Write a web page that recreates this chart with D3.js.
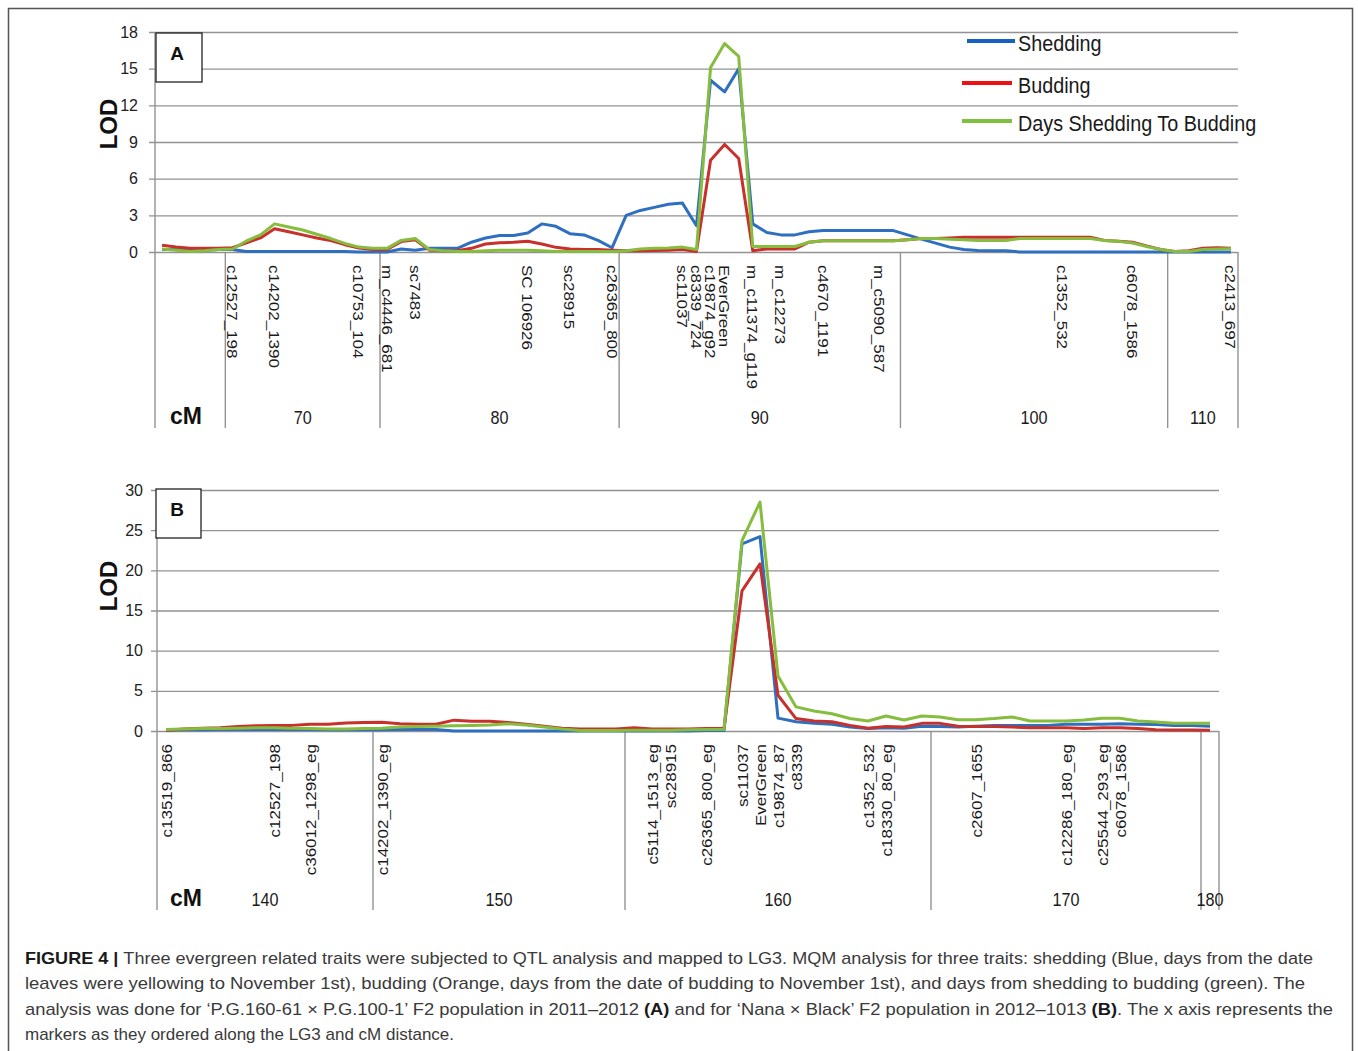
<!DOCTYPE html>
<html>
<head>
<meta charset="utf-8">
<script src="https://cdn.jsdelivr.net/npm/d3@7"></script>
<style>
  body { margin: 0; background: #fff; }
  svg { display: block; font-family: 'Liberation Sans', Arial, sans-serif; }
</style>
</head>
<body>
<svg id="fig" width="1358" height="1051"></svg>
<script>
// ---- panel A data (P.G.160-61 x P.G.100-1, 2011-2012) ----
const sheddingA = [0.2, 0.2, 0.15, 0.15, 0.2, 0.2, 0.05, 0.05, 0.05, 0.05, 0.05, 0.05, 0.05, 0.05, 0, 0, 0,
  0.25, 0.15, 0.3, 0.3, 0.3, 0.8, 1.15, 1.35, 1.35, 1.55, 2.3, 2.1, 1.5, 1.4, 0.95, 0.35,
  3.0, 3.4, 3.65, 3.9, 4.0, 2.15, 14.05, 13.1, 15.0, 2.3, 1.6, 1.4, 1.4, 1.65, 1.75, 1.75, 1.75, 1.75, 1.75, 1.75,
  1.4, 1.05, 0.73, 0.4, 0.2, 0.13, 0.1, 0.1, 0, 0, 0, 0, 0, 0, 0, 0, 0, 0, 0, 0, 0, 0, 0, 0];
const buddingA = [0.55, 0.4, 0.3, 0.3, 0.3, 0.35, 0.75, 1.15, 1.9, 1.65, 1.4, 1.15, 0.93, 0.6, 0.33, 0.2, 0.2,
  0.85, 1.0, 0.15, 0.1, 0.1, 0.3, 0.65, 0.75, 0.8, 0.88, 0.65, 0.38, 0.25, 0.2, 0.2, 0.15,
  0.1, 0.1, 0.12, 0.15, 0.2, 0.05, 7.5, 8.8, 7.65, 0.1, 0.25, 0.25, 0.25, 0.8, 0.92, 0.92, 0.92, 0.92, 0.92, 0.92,
  1.0, 1.1, 1.1, 1.15, 1.2, 1.2, 1.2, 1.2, 1.2, 1.2, 1.2, 1.2, 1.2, 1.2, 0.95, 0.87, 0.8, 0.5, 0.2,
  0.05, 0.1, 0.3, 0.35, 0.3];
const daysA = [0.25, 0.15, 0.05, 0.1, 0.2, 0.25, 0.9, 1.4, 2.3, 2.05, 1.8, 1.45, 1.1, 0.7, 0.4, 0.3, 0.3,
  0.95, 1.1, 0.2, 0.1, 0.05, 0.05, 0.1, 0.15, 0.15, 0.15, 0.1, 0.05, 0.05, 0.05, 0.05, 0.05,
  0.1, 0.25, 0.3, 0.33, 0.4, 0.2, 15.1, 17.05, 16.0, 0.45, 0.45, 0.45, 0.45, 0.8, 0.92, 0.92, 0.92, 0.92, 0.92, 0.92,
  1.0, 1.1, 1.1, 1.05, 1.0, 0.95, 0.95, 0.95, 1.1, 1.1, 1.1, 1.1, 1.1, 1.1, 0.95, 0.87, 0.73, 0.45, 0.2,
  0.05, 0.05, 0.2, 0.25, 0.27];
const markerIdxA = [5, 8, 14, 16, 18, 26, 29, 32, 37, 38, 39, 40, 42, 44, 47, 51, 64, 69, 76];
const markerNamesA = ['c12527_198', 'c14202_1390', 'c10753_104', 'm_c4446_681', 'sc7483', 'SC 106926', 'sc28915',
  'c26365_800', 'sc11037', 'c8339_724', 'c19874_g92', 'EverGreen', 'm_c11374_g119', 'm_c12273', 'c4670_1191',
  'm_c5090_587', 'c1352_532', 'c6078_1586', 'c2413_697'];
const groupSizesA = [5, 11, 17, 20, 19, 5];
const groupLabelsA = ['', '70', '80', '90', '100', '110'];
const ticksA = [0, 3, 6, 9, 12, 15, 18];

// ---- panel B data (Nana x Black, 2012-1013) ----
const sheddingB = [0.1, 0.15, 0.15, 0.2, 0.2, 0.2, 0.2, 0.2, 0.2, 0.15, 0.15, 0.15, 0.15, 0.2, 0.2, 0.2,
  0, 0, 0, 0, 0, 0, 0, 0, 0, 0, 0, 0, 0, 0, 0.05, 0.05,
  23.3, 24.2, 1.6, 1.15, 0.95, 0.85, 0.5, 0.3, 0.4, 0.35, 0.6, 0.55, 0.5, 0.6, 0.7, 0.7, 0.7, 0.7,
  0.85, 0.85, 0.85, 0.9, 0.85, 0.8, 0.7, 0.7, 0.6];
const buddingB = [0.1, 0.25, 0.35, 0.4, 0.55, 0.65, 0.7, 0.7, 0.85, 0.85, 1.0, 1.05, 1.1, 0.9, 0.85, 0.85,
  1.35, 1.2, 1.2, 1.05, 0.85, 0.6, 0.35, 0.25, 0.25, 0.25, 0.4, 0.25, 0.25, 0.25, 0.3, 0.3,
  17.45, 20.8, 4.45, 1.55, 1.25, 1.15, 0.7, 0.35, 0.55, 0.5, 0.95, 0.95, 0.6, 0.55, 0.55, 0.5, 0.4, 0.4,
  0.4, 0.3, 0.4, 0.4, 0.3, 0.15, 0.12, 0.12, 0.1];
const daysB = [0.2, 0.25, 0.3, 0.3, 0.35, 0.4, 0.4, 0.35, 0.3, 0.25, 0.25, 0.3, 0.35, 0.5, 0.55, 0.6,
  0.65, 0.7, 0.75, 0.9, 0.75, 0.5, 0.25, 0.05, 0.05, 0.05, 0.1, 0.1, 0.1, 0.15, 0.2, 0.2,
  23.7, 28.5, 6.85, 3.0, 2.5, 2.15, 1.55, 1.25, 1.87, 1.37, 1.87, 1.75, 1.4, 1.4, 1.55, 1.75, 1.25, 1.25,
  1.25, 1.37, 1.58, 1.58, 1.25, 1.12, 0.95, 0.95, 0.95];
const markerIdxB = [0, 6, 8, 12, 27, 28, 30, 32, 33, 34, 35, 39, 40, 45, 50, 52, 53];
const markerNamesB = ['c13519_866', 'c12527_198', 'c36012_1298_eg', 'c14202_1390_eg', 'c5114_1513_eg', 'sc28915',
  'c26365_800_eg', 'sc11037', 'EverGreen', 'c19874_87', 'c8339', 'c1352_532', 'c18330_80_eg', 'c2607_1655',
  'c12286_180_eg', 'c25544_293_eg', 'c6078_1586'];
const groupSizesB = [12, 14, 17, 15, 1];
const groupLabelsB = ['140', '150', '160', '170', '180'];
const ticksB = [0, 5, 10, 15, 20, 25, 30];

const seriesNames = ['Shedding', 'Budding', 'Days Shedding To Budding'];
const lineColors = ['#2f6fbf', '#c8302c', '#86bd3e'];
const legendColors = ['#1660c0', '#ee1111', '#80c040'];

const captionLines = [
  [['FIGURE 4 | ', true], ['Three evergreen related traits were subjected to QTL analysis and mapped to LG3. MQM analysis for three traits: shedding (Blue, days from the date', false]],
  [['leaves were yellowing to November 1st), budding (Orange, days from the date of budding to November 1st), and days from shedding to budding (green). The', false]],
  [['analysis was done for \u2018P.G.160-61 \u00d7 P.G.100-1\u2019 F2 population in 2011\u20132012 ', false], ['(A)', true],
   [' and for \u2018Nana \u00d7 Black\u2019 F2 population in 2012\u20131013 ', false], ['(B)', true], ['. The x axis represents the', false]],
  [['markers as they ordered along the LG3 and cM distance.', false]]
];

const svg = d3.select('#fig');
const grey = '#929292';

svg.append('rect')
  .attr('x', 8.5).attr('y', 8.5).attr('width', 1344).attr('height', 1100)
  .attr('fill', 'none').attr('stroke', '#555').attr('stroke-width', 1.5);

function squeezed(g, x, y, txt, size, weight) {
  return g.append('text')
    .attr('transform', `translate(${x},${y}) scale(0.9,1)`)
    .attr('font-size', size).attr('font-weight', weight || 'normal')
    .attr('fill', '#1a1a1a').text(txt);
}

function drawPanel(o) {
  const g = svg.append('g');
  const n = o.series[0].length;
  const x = d3.scaleLinear().domain([-0.5, n - 0.5]).range([o.left, o.right]);
  const y = d3.scaleLinear().domain([0, o.ymax]).range([o.bottom, o.top]);

  // gridlines + tick labels
  const ax = g.append('g').attr('transform', `translate(${o.left},0)`)
    .call(d3.axisLeft(y).tickValues(o.ticks).tickSize(-(o.right - o.left)).tickSizeOuter(0).tickPadding(o.pad));
  ax.select('.domain').remove();
  ax.selectAll('.tick line').attr('x1', -6).attr('stroke', grey).attr('stroke-width', 1.4);
  ax.selectAll('.tick text').attr('font-size', 16).attr('fill', '#222')
    .attr('font-family', "'Liberation Sans', Arial, sans-serif");

  // y axis line and group separators
  const bounds = [0, ...d3.cumsum(o.groupSizes)];
  g.selectAll('line.sep').data(bounds).join('line').attr('class', 'sep')
    .attr('x1', d => x(d - 0.5)).attr('x2', d => x(d - 0.5))
    .attr('y1', (d, i) => i === 0 ? o.top : o.bottom).attr('y2', o.sepBottom)
    .attr('stroke', grey).attr('stroke-width', 1.4);

  // group labels
  g.selectAll('text.grp').data(o.groupLabels).join('text').attr('class', 'grp')
    .attr('transform', (d, i) => `translate(${x((bounds[i] + bounds[i + 1] - 1) / 2)},${o.groupY}) scale(0.9,1)`)
    .attr('text-anchor', 'middle').attr('font-size', 18).attr('fill', '#1a1a1a')
    .text(d => d);
  g.append('text').attr('x', 186).attr('y', o.groupY).attr('text-anchor', 'middle')
    .attr('font-size', 23).attr('font-weight', 'bold').attr('fill', '#111').text('cM');

  // marker labels
  const rot = o.labelsDown ? 90 : -90;
  g.selectAll('text.mk').data(o.markerIdx).join('text').attr('class', 'mk')
    .attr('transform', d => `translate(${x(d)},${o.labelY}) rotate(${rot}) scale(1,0.9)`)
    .attr('dy', '0.36em')
    .attr('text-anchor', o.labelsDown ? 'start' : 'end')
    .attr('font-size', 17).attr('fill', '#1a1a1a')
    .text((d, i) => o.markerNames[i]);

  // series lines
  const line = d3.line().x((d, i) => x(i)).y(d => y(d));
  o.series.forEach((s, i) => {
    g.append('path').datum(s).attr('d', line)
      .attr('fill', 'none').attr('stroke', lineColors[i])
      .attr('stroke-width', 3).attr('stroke-linejoin', 'round');
  });

  // panel letter box
  g.append('rect').attr('x', o.box[0]).attr('y', o.box[1]).attr('width', o.box[2]).attr('height', o.box[3])
    .attr('fill', '#fff').attr('stroke', '#222').attr('stroke-width', 1.3);
  g.append('text').attr('x', o.box[0] + 21).attr('y', o.box[1] + 27).attr('text-anchor', 'middle')
    .attr('font-size', 19).attr('font-weight', 'bold').attr('fill', '#111').text(o.letter);

  // LOD title
  g.append('text').attr('transform', `translate(117,${o.lodY}) rotate(-90)`)
    .attr('text-anchor', 'middle').attr('font-size', 24).attr('font-weight', 'bold')
    .attr('fill', '#111').text('LOD');
  return g;
}

const gA = drawPanel({
  series: [sheddingA, buddingA, daysA], ymax: 18, ticks: ticksA, pad: 17,
  left: 155, right: 1238, top: 32, bottom: 252, sepBottom: 428,
  groupSizes: groupSizesA, groupLabels: groupLabelsA, groupY: 424,
  markerIdx: markerIdxA, markerNames: markerNamesA, labelY: 265, labelsDown: true,
  box: [156, 33, 46, 49], letter: 'A', lodY: 124
});

drawPanel({
  series: [sheddingB, buddingB, daysB], ymax: 30, ticks: ticksB, pad: 14,
  left: 157, right: 1219, top: 490, bottom: 731, sepBottom: 910,
  groupSizes: groupSizesB, groupLabels: groupLabelsB, groupY: 906,
  markerIdx: markerIdxB, markerNames: markerNamesB, labelY: 744, labelsDown: false,
  box: [156, 489, 45, 49], letter: 'B', lodY: 586
});

// legend (panel A)
const legY = [41, 83, 121];
const legX = [[967, 1015], [962, 1012], [962, 1012]];
seriesNames.forEach((name, i) => {
  gA.append('line').attr('x1', legX[i][0]).attr('x2', legX[i][1]).attr('y1', legY[i]).attr('y2', legY[i])
    .attr('stroke', legendColors[i]).attr('stroke-width', 4);
  squeezed(gA, 1018, legY[i] + 10, name, 22);
});

// caption
const capEnds = [1313, 1305, 1333, null];
captionLines.forEach((parts, i) => {
  const t = svg.append('text').attr('x', 25).attr('y', 964 + i * 25.4)
    .attr('font-size', 17).attr('fill', '#3a3a3a');
  parts.forEach(p => {
    t.append('tspan').attr('font-weight', p[1] ? 'bold' : 'normal')
      .attr('fill', p[1] ? '#1a1a1a' : '#3a3a3a').text(p[0]);
  });
  if (capEnds[i]) t.attr('textLength', capEnds[i] - 25).attr('lengthAdjust', 'spacingAndGlyphs');
});
</script>
</body>
</html>
